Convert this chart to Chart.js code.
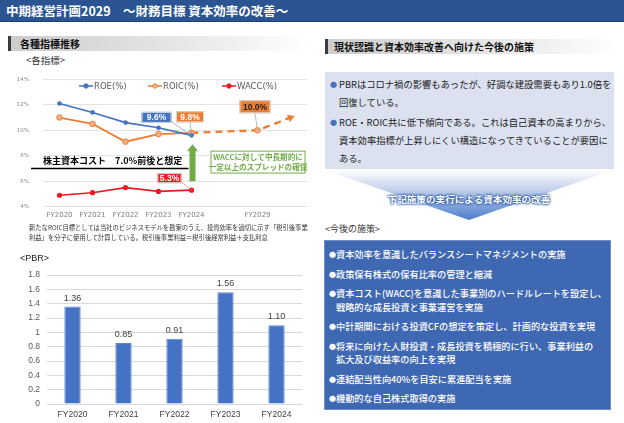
<!DOCTYPE html>
<html lang="ja">
<head>
<meta charset="utf-8">
<title>中期経営計画2029 ～財務目標 資本効率の改善～</title>
<script src="https://cdn.jsdelivr.net/npm/chart.js@4.4.1/dist/chart.umd.min.js"></script>
<style>
body { margin:0; width:624px; height:423px; overflow:hidden; background:#fff; position:relative;
  font-family:"Noto Sans CJK JP", "Noto Sans", sans-serif; color:#222; }
.abs { position:absolute; white-space:nowrap; }
#title { left:0; top:0; width:624px; height:22px; background:#2a5592; border-bottom:1px solid #1d3f72; color:#fff;
  font-weight:bold; font-size:12.5px; line-height:22px; padding-left:6px; box-sizing:border-box; }
.head { height:15px; background:linear-gradient(to right,#cdcdcd,#e6e6e6 55%,#fff); border-left:3px solid #3c3c3c;
  font-weight:bold; font-size:10px; line-height:15px; box-sizing:border-box; color:#111; }
#head1 { left:8px; top:36px; width:302px; padding-left:9px; }
#head2 { left:325px; top:39px; width:295px; padding-left:6px; }
.sub { font-size:9.5px; color:#333; line-height:12px; }
#note { left:29px; top:223px; font-size:6.3px; line-height:10px; color:#333; }
canvas { position:absolute; }
#now { left:325px; top:72px; width:289px; height:97px; background:#dbe1ef; box-sizing:border-box; padding-top:3px;
  font-size:9.3px; line-height:18px; color:#222; }
#now .p { position:relative; padding-left:14px; margin-bottom:2px; white-space:nowrap; }
#now .p b { position:absolute; left:5px; top:0; color:#4472c4; font-size:7px; }
#chev { left:325px; top:170px; width:288px; height:50px; clip-path:polygon(0 0,100% 0,50% 100%);
  background:linear-gradient(to bottom, rgba(255,255,255,1) 0%, #c9d6ee 35%, #4d7dcb 100%); }
#chevText { left:325px; width:288px; top:192px; text-align:center; font-size:9.6px; font-weight:bold; color:#fff; line-height:14px;
  text-shadow:0 0 2px #1f4f9f, 0 0 2px #1f4f9f, 0 0 3px #1f4f9f; }
#plan { left:324px; top:240px; width:287px; height:170px; background:#3f68b2; border:1px solid #6f8fca; box-sizing:border-box;
  padding-top:7px; font-size:9.2px; font-weight:500; line-height:13.5px; color:#fff; }
#plan .p { position:relative; padding-left:11px; margin-bottom:6px; white-space:nowrap; }
#plan .p b { position:absolute; left:4px; top:0; font-size:7px; color:#fff; }
</style>
</head>
<body>
<div id="title" class="abs">中期経営計画2029　～財務目標 資本効率の改善～</div>

<div id="head1" class="abs head">各種指標推移</div>
<div class="abs sub" style="left:26px;top:54px;">&lt;各指標&gt;</div>
<canvas id="lineChart" width="312" height="162" style="left:0;top:62px;"></canvas>
<div id="note" class="abs">新たなROIC目標としては当社のビジネスモデルを勘案のうえ、投資効率を適切に示す「税引後事業<br>利益」を分子に使用して計算している。税引後事業利益＝税引後経常利益＋支払利息</div>

<div class="abs" style="left:20px;top:253px;font-family:'Liberation Sans',Arial,sans-serif;font-size:9px;color:#222;">&lt;PBR&gt;</div>
<canvas id="barChart" width="312" height="161" style="left:0;top:262px;"></canvas>

<div id="head2" class="abs head">現状認識と資本効率改善へ向けた今後の施策</div>
<div id="now" class="abs">
  <div class="p"><b>●</b>PBRはコロナ禍の影響もあったが、好調な建設需要もあり1.0倍を<br>回復している。</div>
  <div class="p"><b>●</b>ROE・ROIC共に低下傾向である。これは自己資本の高まりから、<br>資本効率指標が上昇しにくい構造になってきていることが要因に<br>ある。</div>
</div>
<div id="chev" class="abs"></div>
<div id="chevText" class="abs">下記施策の実行による資本効率の改善</div>
<div class="abs sub" style="left:325px;top:223px;font-size:9px;">&lt;今後の施策&gt;</div>
<div id="plan" class="abs">
  <div class="p"><b>●</b>資本効率を意識したバランスシートマネジメントの実施</div>
  <div class="p"><b>●</b>政策保有株式の保有比率の管理と縮減</div>
  <div class="p"><b>●</b>資本コスト(WACC)を意識した事業別のハードルレートを設定し、<br>戦略的な成長投資と事業運営を実施</div>
  <div class="p"><b>●</b>中計期間における投資CFの想定を策定し、計画的な投資を実現</div>
  <div class="p"><b>●</b>将来に向けた人財投資・成長投資を積極的に行い、事業利益の<br>拡大及び収益率の向上を実現</div>
  <div class="p"><b>●</b>連結配当性向40%を目安に累進配当を実施</div>
  <div class="p"><b>●</b>機動的な自己株式取得の実施</div>
</div>

<script>
// 各指標 (%)
const years = ['FY2020', 'FY2021', 'FY2022', 'FY2023', 'FY2024', '', 'FY2029', ''];
const roe = [12.1, 11.4, 10.6, 10.2, 9.6, null, null, null];
const roic = [11.0, 10.5, 9.1, 9.7, 9.8, null, null, null];
const roicPlan = [null, null, null, null, 9.8, null, 10.0, 11.0];
const wacc = [4.9, 5.1, 5.5, 5.2, 5.3, null, null, null];
const pctTicks = [4, 6, 8, 10, 12, 14];
const costOfEquity = 7.0;

// PBR (倍)
const pbrYears = ['FY2020', 'FY2021', 'FY2022', 'FY2023', 'FY2024'];
const pbr = [1.36, 0.85, 0.91, 1.56, 1.10];
const pbrTicks = [0, 0.2, 0.4, 0.6, 0.8, 1, 1.2, 1.4, 1.6, 1.8];

const C_ROE = '#4472c4', C_ROIC = '#ed7d31', C_WACC = '#e8191f', C_GREEN = '#70ad47';
const JP = '"Noto Sans CJK JP", sans-serif';

function box(ctx, x, y, w, h, fill, stroke) {
    ctx.fillStyle = fill; ctx.fillRect(x, y, w, h);
    if (stroke) { ctx.strokeStyle = stroke; ctx.lineWidth = 1; ctx.strokeRect(x + 0.5, y + 0.5, w - 1, h - 1); }
}

// 吹き出し・矢印・凡例など
const lineExtras = {
    id: 'lineExtras',
    afterDatasetsDraw(chart) {
        const ctx = chart.ctx, xs = chart.scales.x, ys = chart.scales.y;
        ctx.save();

        // 株主資本コスト
        const yc = ys.getPixelForValue(costOfEquity);
        ctx.strokeStyle = '#000'; ctx.lineWidth = 1.3;
        ctx.beginPath(); ctx.moveTo(31, yc); ctx.lineTo(xs.getPixelForValue(4) - 3, yc); ctx.stroke();
        ctx.fillStyle = '#000'; ctx.font = 'bold 9px ' + JP; ctx.textBaseline = 'alphabetic'; ctx.textAlign = 'left';
        ctx.fillText('株主資本コスト　7.0%前後と想定', 43, yc - 4);

        // 緑の矢印
        const xa = xs.getPixelForValue(4) + 1, yb = ys.getPixelForValue(6.0), yt = ys.getPixelForValue(8.9);
        ctx.fillStyle = C_GREEN;
        ctx.beginPath();
        ctx.moveTo(xa - 3, yb); ctx.lineTo(xa - 3, yt + 7); ctx.lineTo(xa - 5.5, yt + 7); ctx.lineTo(xa, yt);
        ctx.lineTo(xa + 5.5, yt + 7); ctx.lineTo(xa + 3, yt + 7); ctx.lineTo(xa + 3, yb); ctx.closePath(); ctx.fill();

        // 緑の枠
        const gx = xs.getPixelForValue(4) + 19, gy = ys.getPixelForValue(8.4), gy2 = ys.getPixelForValue(6.6);
        box(ctx, gx, gy, 95, gy2 - gy, '#fff', C_GREEN);
        ctx.fillStyle = C_GREEN; ctx.font = 'bold 7.6px ' + JP; ctx.textAlign = 'center'; ctx.textBaseline = 'middle';
        ctx.fillText('WACCに対して中長期的に', gx + 47.5, gy + 6.5);
        ctx.fillText('一定以上のスプレッドの確保', gx + 47.5, gy + 16);

        // 値ラベル
        const callouts = [
            { ds: 0, i: 4, dx: -35, dy: -18, w: 30, h: 11, fill: C_ROE, text: '9.6%' },
            { ds: 1, i: 4, dx: -1.5, dy: -16, w: 28, h: 11, fill: C_ROIC, text: '9.8%' },
            { ds: 2, i: 6, dx: -2.5, dy: -23.5, w: 31, h: 13, fill: C_ROIC, text: '10.0%' },
            { ds: 3, i: 4, dx: -22, dy: -12, w: 24, h: 10, fill: C_WACC, text: '5.3%' }
        ];
        callouts.forEach(c => {
            const pt = chart.getDatasetMeta(c.ds).data[c.i];
            const cx = pt.x + c.dx, cy = pt.y + c.dy;
            ctx.strokeStyle = '#a6a6a6'; ctx.lineWidth = 0.8;
            ctx.beginPath();
            if (Math.abs(c.dx) > 10) ctx.moveTo(cx + c.w / 2, cy + c.h / 2 - 1); else ctx.moveTo(cx, cy + c.h / 2);
            ctx.lineTo(pt.x, pt.y); ctx.stroke();
            box(ctx, cx - c.w / 2, cy - c.h / 2, c.w, c.h, c.fill, '#d9d9d9');
            ctx.fillStyle = c.ds === 2 ? '#222' : '#fff';
            ctx.font = 'bold 8.5px "Liberation Sans", sans-serif'; ctx.textAlign = 'center'; ctx.textBaseline = 'middle';
            ctx.fillText(c.text, cx, cy + 0.5);
        });

        // 凡例
        const legend = [
            { x: 86, color: C_ROE, fill: C_ROE, text: 'ROE(%)' },
            { x: 155, color: C_ROIC, fill: '#f4b183', text: 'ROIC(%)' },
            { x: 229, color: C_WACC, fill: C_WACC, text: 'WACC(%)' }
        ];
        const ly = 86 - 62;
        legend.forEach(l => {
            ctx.strokeStyle = l.color; ctx.lineWidth = 1.5;
            ctx.beginPath(); ctx.moveTo(l.x - 7, ly); ctx.lineTo(l.x + 7, ly); ctx.stroke();
            ctx.fillStyle = l.fill; ctx.beginPath(); ctx.arc(l.x, ly, 2.3, 0, Math.PI * 2); ctx.fill();
            ctx.strokeStyle = l.color; ctx.lineWidth = 0.8; ctx.stroke();
            ctx.fillStyle = '#595959'; ctx.font = '8.5px "DejaVu Sans", sans-serif'; ctx.textAlign = 'left'; ctx.textBaseline = 'middle';
            ctx.fillText(l.text, l.x + 8, ly + 0.5);
        });
        ctx.restore();
    }
};

new Chart(document.getElementById('lineChart'), {
    type: 'line',
    data: {
        labels: years,
        datasets: [
            { label: 'ROE(%)', data: roe, borderColor: C_ROE, backgroundColor: C_ROE, borderWidth: 1.6, pointRadius: 2.3, pointBorderWidth: 0 },
            { label: 'ROIC(%)', data: roic, borderColor: C_ROIC, backgroundColor: '#f4b183', borderWidth: 1.8, pointRadius: 2.8, pointBorderWidth: 1, pointBorderColor: C_ROIC },
            { label: 'ROIC目標', data: roicPlan, borderColor: C_ROIC, backgroundColor: '#f4b183', borderWidth: 2.4, borderDash: [7, 5], spanGaps: true,
              pointRadius: [0, 0, 0, 0, 0, 0, 2.8, 4.5], pointStyle: ['circle', 'circle', 'circle', 'circle', 'circle', 'circle', 'circle', 'triangle'],
              pointRotation: [0, 0, 0, 0, 0, 0, 0, 70], pointBorderWidth: [1, 1, 1, 1, 1, 1, 1, 0], pointBorderColor: C_ROIC,
              pointBackgroundColor: ['#f4b183', '#f4b183', '#f4b183', '#f4b183', '#f4b183', '#f4b183', '#f4b183', C_ROIC] },
            { label: 'WACC(%)', data: wacc, borderColor: C_WACC, backgroundColor: C_WACC, borderWidth: 1.6, pointRadius: 2.6, pointBorderWidth: 0 }
        ]
    },
    options: {
        responsive: false,
        animation: false,
        layout: { padding: { top: 16, right: 2, left: 0, bottom: 0 } },
        plugins: { legend: { display: false }, tooltip: { enabled: false } },
        scales: {
            x: {
                offset: true,
                grid: { display: false, drawTicks: false },
                border: { display: false },
                ticks: { color: '#7f7f7f', font: { size: 7, family: '"DejaVu Sans", sans-serif' }, padding: 4, maxRotation: 0, autoSkip: false },
                afterFit: s => { s.height = 16; }
            },
            y: {
                min: pctTicks[0], max: pctTicks[pctTicks.length - 1],
                grid: { color: '#e3e3e3', drawTicks: false },
                border: { display: false },
                ticks: { stepSize: pctTicks[1] - pctTicks[0], color: '#8c8c8c', font: { size: 5.5, family: '"DejaVu Sans", sans-serif' }, padding: 14,
                         callback: v => v + '%' },
                afterFit: s => { s.width = 43; }
            }
        }
    },
    plugins: [lineExtras]
});

// PBR 値ラベル
const barLabels = {
    id: 'barLabels',
    afterDatasetsDraw(chart) {
        const ctx = chart.ctx;
        ctx.save();
        ctx.fillStyle = '#404040'; ctx.font = '9px "Liberation Sans", Arial, sans-serif';
        ctx.textAlign = 'center'; ctx.textBaseline = 'bottom';
        chart.getDatasetMeta(0).data.forEach((bar, i) => {
            ctx.fillText(pbr[i].toFixed(2), bar.x, bar.y - 4);
        });
        ctx.restore();
    }
};

new Chart(document.getElementById('barChart'), {
    type: 'bar',
    data: {
        labels: pbrYears,
        datasets: [{ label: 'PBR', data: pbr, backgroundColor: '#4472c4', borderColor: '#5b86d0', borderWidth: 1,
                     categoryPercentage: 1, barPercentage: 0.32 }]
    },
    options: {
        responsive: false,
        animation: false,
        layout: { padding: { top: 13, right: 10, left: 0, bottom: 0 } },
        plugins: { legend: { display: false }, tooltip: { enabled: false } },
        scales: {
            x: {
                grid: { display: false, drawTicks: false },
                border: { display: false },
                ticks: { color: '#404040', font: { size: 8.5, family: '"Liberation Sans", Arial, sans-serif' }, padding: 6 },
                afterFit: s => { s.height = 19; }
            },
            y: {
                min: pbrTicks[0], max: pbrTicks[pbrTicks.length - 1],
                grid: { color: '#d9d9d9', drawTicks: false },
                border: { display: false },
                ticks: { stepSize: pbrTicks[1] - pbrTicks[0], color: '#595959', font: { size: 8.5, family: '"Liberation Sans", Arial, sans-serif' }, padding: 7,
                         callback: v => String(+v.toFixed(1)) },
                afterFit: s => { s.width = 47; }
            }
        }
    },
    plugins: [barLabels]
});
</script>
</body>
</html>
